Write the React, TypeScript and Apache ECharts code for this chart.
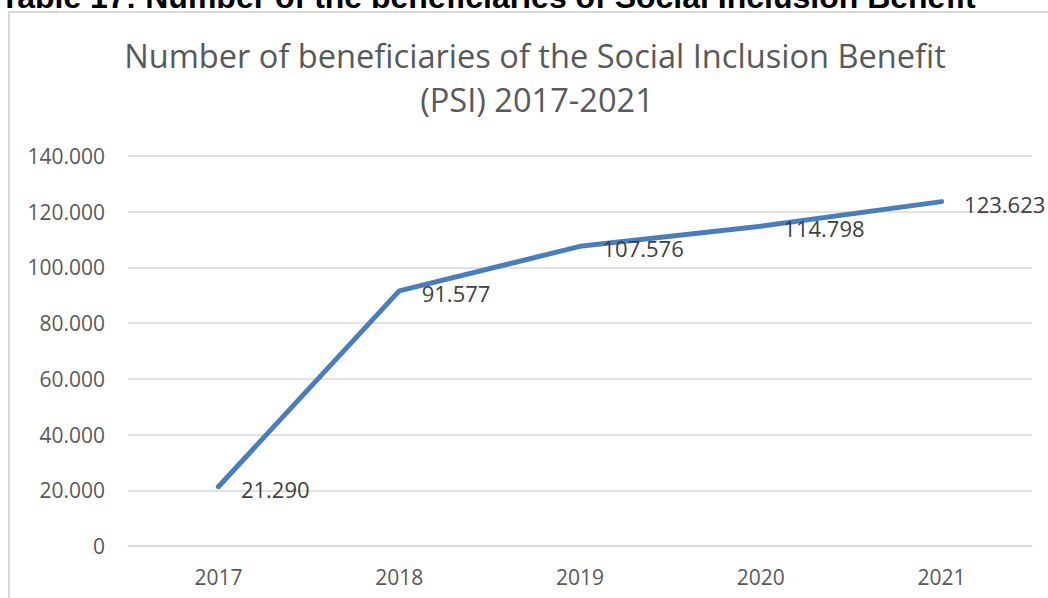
import React, { useEffect, useRef } from "react";
import * as echarts from "echarts";

const years = ["2017", "2018", "2019", "2020", "2021"];
const beneficiaries = [21290, 91577, 107576, 114798, 123623];
const yTicks = { min: 0, max: 140000, interval: 20000 };
const heading = "Table 17: Number of the beneficiaries of Social Inclusion Benefit";
const titleLines = ["Number of beneficiaries of the Social Inclusion Benefit", "(PSI) 2017-2021"];

function fmt(n: number): string {
  const s = Math.round(n).toString();
  return s.replace(/\B(?=(\d{3})+(?!\d))/g, ".");
}

const FONT = '"Open Sans", "Noto Sans", sans-serif';
const GRAY = "#595959";

export default function App() {
  const ref = useRef<HTMLDivElement>(null);
  useEffect(() => {
    document.body.style.margin = "0";
    const chart = echarts.init(ref.current!, null, { renderer: "svg" });
    chart.setOption({
      animation: false,
      backgroundColor: "#ffffff",
      textStyle: { fontFamily: FONT },
      grid: { left: 128, right: 16, top: 156, bottom: 52, containLabel: false },
      graphic: [
        {
          type: "rect",
          z: -1,
          shape: { x: 9, y: 12, width: 1200, height: 800 },
          style: { fill: "none", stroke: "#d9d9d9", lineWidth: 2 },
        },
        {
          type: "text",
          x: 0,
          y: 13,
          style: {
            text: heading,
            font: 'bold 32px "Liberation Sans", Arial, sans-serif',
            fill: "#000000",
            textAlign: "left",
            textVerticalAlign: "bottom",
          },
        },
        {
          type: "text",
          x: 535,
          y: 55,
          style: {
            text: titleLines[0],
            font: `32.6px ${FONT}`,
            fill: GRAY,
            textAlign: "center",
            textVerticalAlign: "middle",
          },
        },
        {
          type: "text",
          x: 537,
          y: 99,
          style: {
            text: titleLines[1],
            font: `32.6px ${FONT}`,
            fill: GRAY,
            textAlign: "center",
            textVerticalAlign: "middle",
          },
        },
      ],
      xAxis: {
        type: "category",
        data: years,
        boundaryGap: true,
        axisLine: { show: true, lineStyle: { color: "#d9d9d9", width: 1.5 } },
        axisTick: { show: false },
        axisLabel: { color: GRAY, fontSize: 21, fontFamily: FONT, margin: 20 },
      },
      yAxis: {
        type: "value",
        min: yTicks.min,
        max: yTicks.max,
        interval: yTicks.interval,
        axisLine: { show: false },
        axisTick: { show: false },
        splitLine: { lineStyle: { color: "#d9d9d9", width: 1.5 } },
        axisLabel: {
          color: GRAY,
          fontSize: 21,
          fontFamily: FONT,
          margin: 23,
          formatter: (v: number) => fmt(v),
        },
      },
      series: [
        {
          type: "line",
          data: beneficiaries,
          symbol: "circle",
          symbolSize: 1,
          showSymbol: true,
          itemStyle: { color: "rgba(0,0,0,0)", borderWidth: 0 },
          lineStyle: { color: "#4a7ebb", width: 5, cap: "round", join: "round" },
          label: {
            show: true,
            position: "right",
            distance: 22,
            offset: [0, 2],
            color: "#404040",
            fontSize: 22,
            fontFamily: FONT,
            formatter: (p: any) => fmt(p.value),
          },
        },
      ],
    });
    return () => chart.dispose();
  }, []);
  return <div ref={ref} style={{ width: 1048, height: 598 }} />;
}
